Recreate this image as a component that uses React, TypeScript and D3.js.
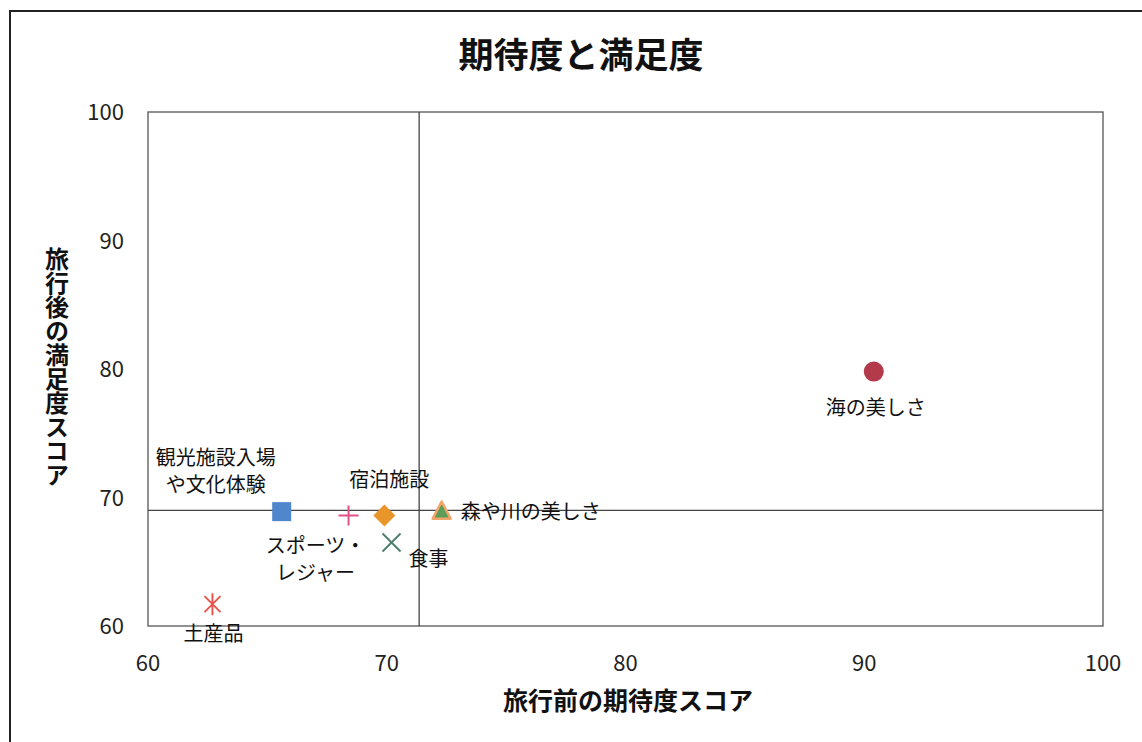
import React from "react";
import * as d3 from "d3";

const categories = ["海の美しさ", "森や川の美しさ", "宿泊施設", "スポーツ・レジャー", "観光施設入場や文化体験", "食事", "土産品"];
const expectation = [90.4, 72.3, 69.9, 68.4, 65.6, 70.2, 62.7];
const satisfaction = [79.8, 68.9, 68.6, 68.6, 68.9, 66.5, 61.7];
const xTicks = [60, 70, 80, 90, 100];
const yTicks = [60, 70, 80, 90, 100];

const W = 1142, H = 742;
const M = { left: 148, right: 1103, top: 112, bottom: 626 };
const FONT = "'Noto Sans CJK JP', 'Noto Sans', sans-serif";

const markerStyle: Record<string, { shape: string; color: string; stroke?: string }> = {
  "海の美しさ": { shape: "circle", color: "#b23a4a" },
  "森や川の美しさ": { shape: "triangle", color: "#5a9e5a", stroke: "#f0a56a" },
  "宿泊施設": { shape: "diamond", color: "#e8962a" },
  "スポーツ・レジャー": { shape: "plus", color: "#e0508a" },
  "観光施設入場や文化体験": { shape: "square", color: "#4f86cc" },
  "食事": { shape: "cross", color: "#4f7f6f" },
  "土産品": { shape: "star", color: "#e8574e" },
};

const labelLayout: Record<string, { lines: string[]; dx: number; dy: number; anchor: string }> = {
  "海の美しさ": { lines: ["海の美しさ"], dx: 2, dy: 43, anchor: "middle" },
  "森や川の美しさ": { lines: ["森や川の美しさ"], dx: 19, dy: 7, anchor: "start" },
  "宿泊施設": { lines: ["宿泊施設"], dx: 5, dy: -28, anchor: "middle" },
  "スポーツ・レジャー": { lines: ["スポーツ・", "レジャー"], dx: -33, dy: 38, anchor: "middle" },
  "観光施設入場や文化体験": { lines: ["観光施設入場", "や文化体験"], dx: -66, dy: -47, anchor: "middle" },
  "食事": { lines: ["食事"], dx: 37, dy: 24, anchor: "middle" },
  "土産品": { lines: ["土産品"], dx: 1, dy: 37, anchor: "middle" },
};

function Marker({ name, x, y }: { name: string; x: number; y: number }) {
  const s = markerStyle[name];
  switch (s.shape) {
    case "circle":
      return <circle cx={x} cy={y} r={10} fill={s.color} />;
    case "square":
      return <rect x={x - 9.5} y={y - 9.5} width={19} height={19} fill={s.color} />;
    case "diamond":
      return <path d={`M${x},${y - 11}L${x + 11},${y}L${x},${y + 11}L${x - 11},${y}Z`} fill={s.color} />;
    case "triangle":
      return <path d={`M${x},${y - 10}L${x + 9},${y + 7}L${x - 9},${y + 7}Z`} fill={s.color} stroke={s.stroke} strokeWidth={2.5} strokeLinejoin="round" />;
    case "plus":
      return <path d={`M${x - 10},${y}H${x + 10}M${x},${y - 10}V${y + 10}`} stroke={s.color} strokeWidth={2} />;
    case "cross":
      return <path d={`M${x - 9},${y - 9}L${x + 9},${y + 9}M${x + 9},${y - 9}L${x - 9},${y + 9}`} stroke={s.color} strokeWidth={2} />;
    case "star":
      return <path d={`M${x - 8},${y - 8}L${x + 8},${y + 8}M${x + 8},${y - 8}L${x - 8},${y + 8}M${x},${y - 11}V${y + 11}`} stroke={s.color} strokeWidth={2} />;
  }
  return null;
}

export default function App() {
  const x = d3.scaleLinear().domain([60, 100]).range([M.left, M.right]);
  const y = d3.scaleLinear().domain([60, 100]).range([M.bottom, M.top]);
  const meanX = d3.mean(expectation) as number;
  const meanY = d3.mean(satisfaction) as number;

  return (
    <svg width={W} height={H} style={{ position: "absolute", left: 0, top: 0, background: "#fff" }} fontFamily={FONT}>
      <rect x={0} y={0} width={W} height={H} fill="#fff" />
      {/* outer frame */}
      <path d={`M10,${H}V11H${W}`} fill="none" stroke="#222" strokeWidth={2} />
      <text x={581} y={68} textAnchor="middle" fontSize={35} fontWeight="bold" fill="#111">期待度と満足度</text>
      {/* plot area */}
      <rect x={M.left} y={M.top} width={M.right - M.left} height={M.bottom - M.top} fill="none" stroke="#555" strokeWidth={1.3} />
      {/* mean lines */}
      <line x1={x(meanX)} x2={x(meanX)} y1={M.top} y2={M.bottom} stroke="#444" strokeWidth={1.3} />
      <line x1={M.left} x2={M.right} y1={y(meanY)} y2={y(meanY)} stroke="#444" strokeWidth={1.3} />
      {/* ticks */}
      {xTicks.map((t) => (
        <text key={"x" + t} x={x(t)} y={671} textAnchor="middle" fontSize={22} fill="#222">{t}</text>
      ))}
      {yTicks.map((t) => (
        <text key={"y" + t} x={124} y={y(t) + 8} textAnchor="end" fontSize={22} fill="#222">{t}</text>
      ))}
      <text x={628} y={710} textAnchor="middle" fontSize={25} fontWeight="bold" fill="#111">旅行前の期待度スコア</text>
      <text x={57} y={367} textAnchor="middle" fontSize={24} fontWeight="bold" fill="#111"
        style={{ writingMode: "vertical-rl", textOrientation: "upright" } as any}>旅行後の満足度スコア</text>
      {/* points */}
      {categories.map((c, i) => {
        const px = x(expectation[i]);
        const py = y(satisfaction[i]);
        const L = labelLayout[c];
        return (
          <g key={c}>
            <Marker name={c} x={px} y={py} />
            <text x={px + L.dx} y={py + L.dy} textAnchor={L.anchor} fontSize={20} fill="#111">
              {L.lines.map((ln, j) => (
                <tspan key={j} x={px + L.dx} dy={j === 0 ? 0 : 27}>{ln}</tspan>
              ))}
            </text>
          </g>
        );
      })}
    </svg>
  );
}
